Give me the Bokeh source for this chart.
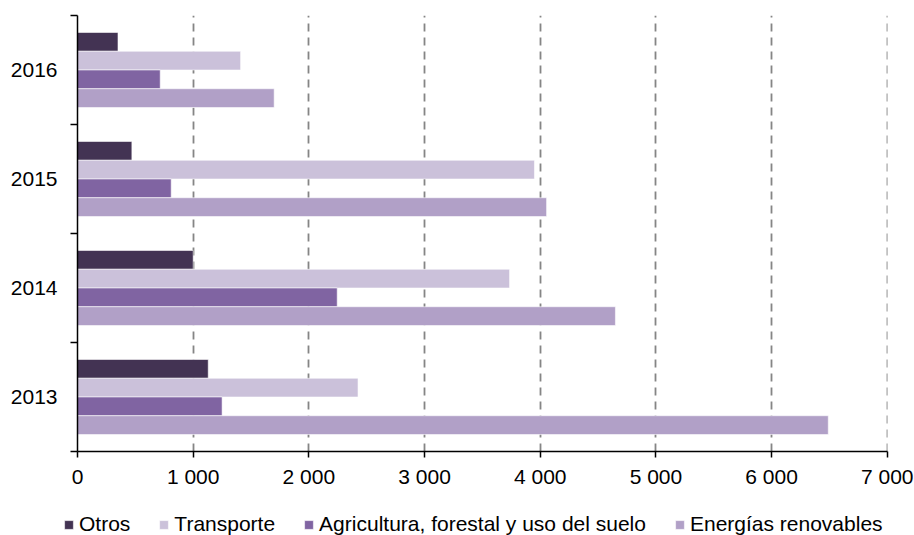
from bokeh.plotting import figure
from bokeh.layouts import column
from bokeh.models import (ColumnDataSource, Range1d, FixedTicker, Legend, LegendItem)
from bokeh.transform import dodge
from bokeh.embed import file_html
from bokeh.resources import INLINE

# ---- data ----
years = ["2013", "2014", "2015", "2016"]
otros = [1130, 1000, 470, 350]
transporte = [2425, 3735, 3950, 1410]
agricultura = [1250, 2245, 810, 715]
energias = [6490, 4650, 4055, 1700]
series_names = ["Otros", "Transporte", "Agricultura, forestal y uso del suelo", "Energías renovables"]
x_ticks = [0, 1000, 2000, 3000, 4000, 5000, 6000, 7000]
x_tick_labels = ["0", "1 000", "2 000", "3 000", "4 000", "5 000", "6 000", "7 000"]

colors = ["#433353", "#CBC1DA", "#8064A2", "#B1A0C7"]
FONT = "Liberation Sans"

y_pos = [i + 0.5 for i in range(len(years))]
src = ColumnDataSource(dict(y=y_pos, otros=otros, transporte=transporte,
                            agricultura=agricultura, energias=energias))

MAIN_H = 490
p = figure(width=914, height=MAIN_H, output_backend="svg", toolbar_location=None,
           x_range=Range1d(0, 7002), y_range=Range1d(0, len(years)),
           min_border_left=77, min_border_right=27, min_border_top=15,
           min_border_bottom=MAIN_H - 451)
p.frame_align = False
p.outline_line_color = None
p.background_fill_color = "white"
p.border_fill_color = "white"

bar_h = 0.172
offsets = [1.5 * bar_h, 0.5 * bar_h, -0.5 * bar_h, -1.5 * bar_h]
fields = ["otros", "transporte", "agricultura", "energias"]
bar_style = dict(line_color="white", line_width=0.8, line_alpha=0.7)
for f, off, c in zip(fields, offsets, colors):
    p.hbar(y=dodge("y", off), right=f, left=0, height=bar_h, source=src,
           fill_color=c, **bar_style)

# x axis
xa = p.xaxis[0]
xa.ticker = FixedTicker(ticks=x_ticks)
xa.major_label_overrides = {t: l for t, l in zip(x_ticks, x_tick_labels)}
xa.major_label_text_font = FONT
xa.major_label_text_font_size = "21px"
xa.major_label_text_color = "black"
xa.major_tick_out = 6
xa.major_tick_in = 0
xa.minor_tick_line_color = None
xa.axis_line_width = 1.5
xa.axis_line_color = "black"
xa.major_tick_line_width = 1.5
xa.major_tick_line_color = "black"
xa.major_label_standoff = 7

# y axis (labels at category centres, ticks at boundaries)
ya = p.yaxis[0]
ya.ticker = FixedTicker(ticks=y_pos, minor_ticks=[float(i) for i in range(len(years) + 1)])
ya.major_label_overrides = {yv: yr for yv, yr in zip(y_pos, years)}
ya.major_label_text_font = FONT
ya.major_label_text_font_size = "21px"
ya.major_label_text_color = "black"
ya.major_tick_out = 0
ya.major_tick_in = 0
ya.minor_tick_out = 7
ya.minor_tick_in = 0
ya.minor_tick_line_color = "black"
ya.minor_tick_line_width = 1.5
ya.axis_line_width = 1.5
ya.axis_line_color = "black"
ya.major_label_standoff = 13

# grid
p.ygrid.grid_line_color = None
p.xgrid.ticker = FixedTicker(ticks=x_ticks[1:])
p.xgrid.grid_line_color = "#858585"
p.xgrid.grid_line_width = 1.8
p.xgrid.grid_line_dash = "8 6"

# legend strip (a second figure whose ranges keep its bars out of view)
LEG_H = 535 - MAIN_H
q = figure(width=914, height=LEG_H, output_backend="svg", toolbar_location=None,
           x_range=Range1d(-10, -5), y_range=Range1d(-10, -5),
           min_border=0, min_border_left=0, min_border_right=0,
           min_border_top=0, min_border_bottom=0,
           x_axis_location=None, y_axis_location=None)
q.frame_align = False
q.outline_line_color = None
q.grid.grid_line_color = None
q.border_fill_color = "white"
leg_renderers = []
for f, off, c in zip(fields, offsets, colors):
    r = q.hbar(y=dodge("y", off), right=f, left=0, height=bar_h, source=src,
               fill_color=c, **bar_style)
    leg_renderers.append(r)

legend = Legend(items=[LegendItem(label=n, renderers=[r]) for n, r in zip(series_names, leg_renderers)],
                orientation="horizontal", location=(63, -1),
                glyph_width=11, glyph_height=11, label_standoff=5, spacing=28,
                padding=0, margin=0, border_line_color=None, background_fill_alpha=0,
                label_text_font=FONT, label_text_font_size="21px", label_text_color="black")
q.add_layout(legend, "center")

layout = column(p, q, spacing=0)
open("out.html", "w").write(file_html(layout, INLINE))
